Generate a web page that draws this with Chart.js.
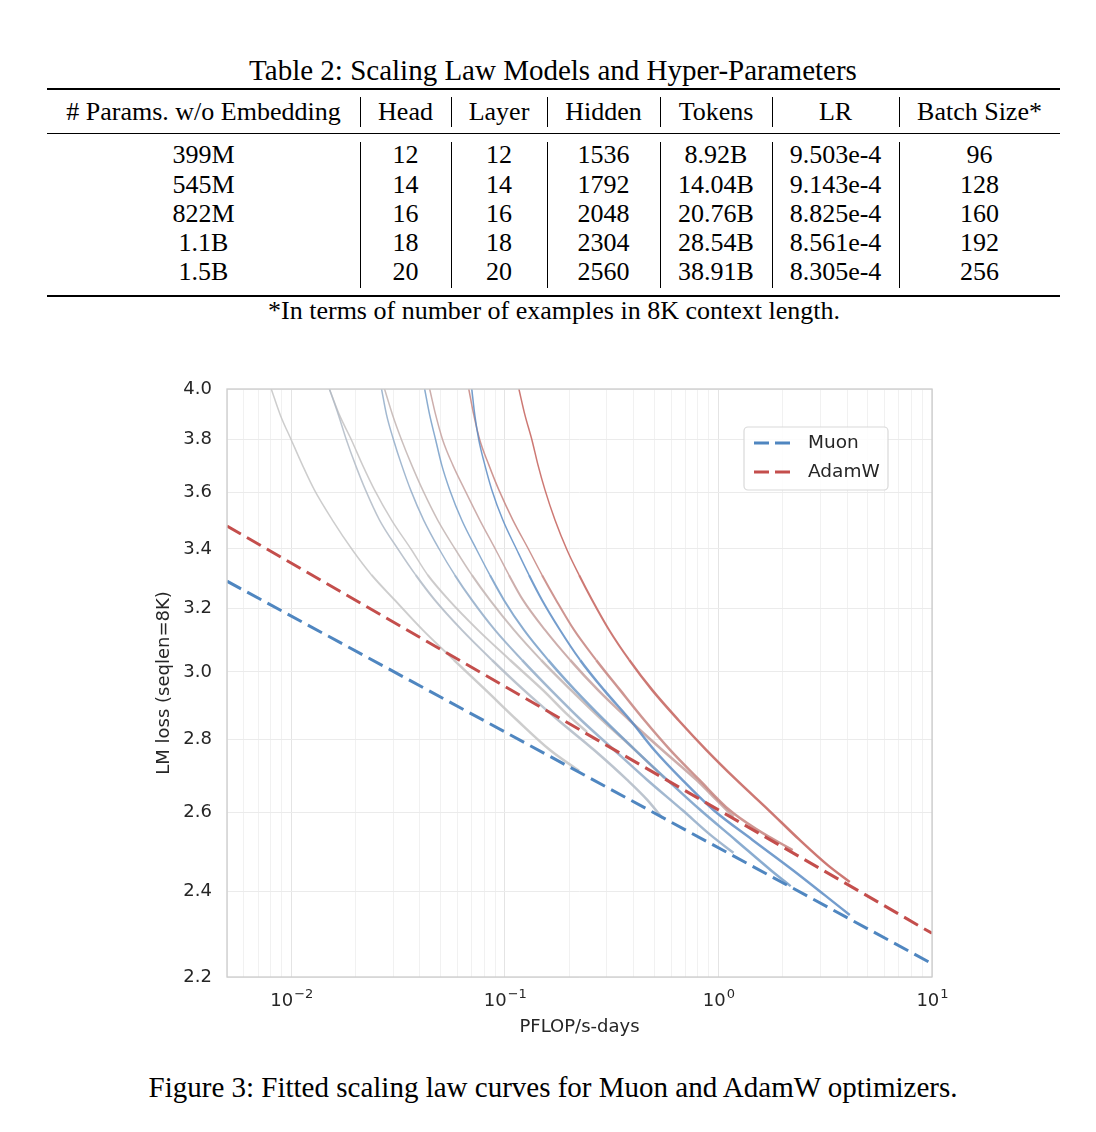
<!DOCTYPE html>
<html>
<head>
<meta charset="utf-8">
<script src="https://cdn.jsdelivr.net/npm/chart.js@4.4.1/dist/chart.umd.min.js"></script>
<style>
  body { margin: 0; background: #fff; width: 1096px; height: 1132px; position: relative; overflow: hidden;
         font-family: "Liberation Serif", "Times New Roman", serif; color: #000; }
  .t { position: absolute; white-space: nowrap; font-size: 26px; transform: translate(-50%, -50%); line-height: 1; }
  .big { font-size: 29px; }
  .rule { position: absolute; background: #000; }
  #wrap { position: absolute; left: 0; top: 360px; width: 1096px; height: 700px; }
</style>
</head>
<body>
<div id="table"></div>
<div id="wrap"><canvas id="chart"></canvas></div>
<div class="t big" style="left:553px; top:1087px;">Figure 3: Fitted scaling law curves for Muon and AdamW optimizers.</div>
<script>
// ---- table ----
var tableTitle = 'Table 2: Scaling Law Models and Hyper-Parameters';
var tableNote = '*In terms of number of examples in 8K context length.';
var tableHeaders = ['# Params. w/o Embedding', 'Head', 'Layer', 'Hidden', 'Tokens', 'LR', 'Batch Size*'];
var tableRows = [
    ['399M', '12', '12', '1536', '8.92B', '9.503e-4', '96'],
    ['545M', '14', '14', '1792', '14.04B', '9.143e-4', '128'],
    ['822M', '16', '16', '2048', '20.76B', '8.825e-4', '160'],
    ['1.1B', '18', '18', '2304', '28.54B', '8.561e-4', '192'],
    ['1.5B', '20', '20', '2560', '38.91B', '8.305e-4', '256']
];

// ---- chart data (x: PFLOP/s-days, y: LM loss) ----
var muonFitX = [0.005, 10];
var muonFitY = [3.29, 2.23];
var adamFitX = [0.005, 10];
var adamFitY = [3.48, 2.30];

var m1X = [0.008057, 0.008879, 0.01000, 0.011263, 0.012824, 0.015578, 0.019338, 0.023748, 0.03045, 0.041216, 0.057623, 0.08143, 0.11385, 0.16266, 0.22255];
var m1Y = [4.000, 3.896, 3.798, 3.703, 3.610, 3.501, 3.396, 3.311, 3.228, 3.131, 3.037, 2.945, 2.857, 2.771, 2.713];
var a1X = [0.01508, 0.016802, 0.01913, 0.021545, 0.02453, 0.029479, 0.036594, 0.043503, 0.054594, 0.07469, 0.10556, 0.1508, 0.19761, 0.24267];
var a1Y = [4.000, 3.896, 3.798, 3.703, 3.610, 3.501, 3.396, 3.311, 3.228, 3.131, 3.037, 2.945, 2.871, 2.822];
var m2X = [0.01508, 0.016622, 0.018122, 0.019974, 0.022255, 0.025893, 0.031795, 0.038209, 0.046922, 0.062826, 0.08689, 0.1228, 0.17736, 0.26172, 0.3739, 0.46418, 0.54585];
var m2Y = [4.000, 3.896, 3.798, 3.703, 3.610, 3.501, 3.396, 3.311, 3.228, 3.131, 3.037, 2.945, 2.857, 2.771, 2.688, 2.634, 2.586];
var a2X = [0.02733, 0.029799, 0.032845, 0.036594, 0.041216, 0.048467, 0.058881, 0.0700, 0.08504, 0.11022, 0.14758, 0.20412, 0.28536, 0.40769, 0.55777];
var a2Y = [4.000, 3.896, 3.798, 3.703, 3.610, 3.501, 3.396, 3.311, 3.228, 3.131, 3.037, 2.945, 2.857, 2.771, 2.693];
var m3X = [0.026459, 0.027927, 0.030123, 0.032845, 0.036201, 0.041663, 0.04953, 0.058248, 0.0700, 0.08975, 0.12018, 0.16443, 0.22741, 0.32488, 0.46418, 0.67763, 0.91714, 1.1761];
var m3Y = [4.000, 3.896, 3.798, 3.703, 3.610, 3.501, 3.396, 3.311, 3.228, 3.131, 3.037, 2.945, 2.857, 2.771, 2.688, 2.607, 2.542, 2.496];
var a3X = [0.044455, 0.047432, 0.051163, 0.057004, 0.064895, 0.07632, 0.09073, 0.10443, 0.12148, 0.1541, 0.20193, 0.2733, 0.38207, 0.54585, 0.78835, 0.97863, 1.1761];
var a3Y = [4.000, 3.896, 3.798, 3.703, 3.610, 3.501, 3.396, 3.311, 3.228, 3.131, 3.037, 2.945, 2.857, 2.771, 2.688, 2.634, 2.589];
var m4X = [0.042115, 0.044455, 0.047432, 0.050613, 0.055186, 0.062826, 0.07388, 0.08504, 0.09893, 0.1228, 0.15919, 0.21311, 0.2916, 0.40769, 0.57618, 0.82317, 1.2018, 1.7544, 2.1779];
var m4Y = [4.000, 3.896, 3.798, 3.703, 3.610, 3.501, 3.396, 3.311, 3.228, 3.131, 3.037, 2.945, 2.857, 2.771, 2.688, 2.607, 2.529, 2.453, 2.413];
var a4X = [0.06777, 0.07153, 0.07632, 0.08412, 0.09373, 0.10904, 0.12963, 0.14918, 0.17356, 0.21082, 0.26746, 0.34667, 0.44933, 0.59517, 0.81433, 1.1263, 1.5244, 2.2255];
var a4Y = [4.000, 3.896, 3.798, 3.703, 3.610, 3.501, 3.396, 3.311, 3.228, 3.131, 3.037, 2.945, 2.857, 2.771, 2.688, 2.607, 2.555, 2.503];
var m5X = [0.0700, 0.0723, 0.0755, 0.08056, 0.08689, 0.09786, 0.11385, 0.12963, 0.14918, 0.18122, 0.22497, 0.2916, 0.38623, 0.50063, 0.67763, 0.94734, 1.4441, 2.2255, 3.1452, 4.1212];
var m5Y = [4.000, 3.896, 3.798, 3.703, 3.610, 3.501, 3.396, 3.311, 3.228, 3.131, 3.037, 2.945, 2.857, 2.771, 2.688, 2.607, 2.529, 2.453, 2.391, 2.343];
var a5X = [0.11635, 0.12413, 0.1339, 0.14288, 0.1541, 0.17169, 0.19549, 0.22255, 0.25613, 0.3078, 0.38207, 0.48992, 0.64895, 0.87836, 1.2148, 1.7169, 2.4003, 3.2487, 4.1212];
var a5Y = [4.000, 3.896, 3.798, 3.703, 3.610, 3.501, 3.396, 3.311, 3.228, 3.131, 3.037, 2.945, 2.857, 2.771, 2.688, 2.607, 2.529, 2.465, 2.423];

var xGridValues = [0.005, 0.006, 0.007, 0.008, 0.009,
    0.01, 0.02, 0.03, 0.04, 0.05, 0.06, 0.07, 0.08, 0.09,
    0.1, 0.2, 0.3, 0.4, 0.5, 0.6, 0.7, 0.8, 0.9,
    1, 2, 3, 4, 5, 6, 7, 8, 9, 10];
var xMajorTicks = [0.01, 0.1, 1, 10];
var xMajorExponents = ['\u22122', '\u22121', '0', '1'];
var yTickValues = [2.2, 2.4, 2.6, 2.8, 3.0, 3.2, 3.4, 3.6, 3.8, 4.0];

// ---- build table ----
var colEdges = [47, 360, 451, 547, 660, 772, 899, 1060];
var rowCenters = [155, 185, 214, 243, 272];
var tableEl = document.getElementById('table');

function addText(txt, x, y, cls) {
    var d = document.createElement('div');
    d.className = 't' + (cls ? ' ' + cls : '');
    d.style.left = x + 'px';
    d.style.top = y + 'px';
    d.textContent = txt;
    tableEl.appendChild(d);
}
function addRule(x, y, w, h) {
    var d = document.createElement('div');
    d.className = 'rule';
    d.style.left = x + 'px';
    d.style.top = y + 'px';
    d.style.width = w + 'px';
    d.style.height = h + 'px';
    tableEl.appendChild(d);
}

addText(tableTitle, 553, 70, 'big');
addRule(47, 88, 1013, 2);
addRule(47, 133, 1013, 1);
addRule(47, 295, 1013, 2);
addText(tableNote, 554, 311);
for (var c = 0; c < tableHeaders.length; c++) {
    var cx = (colEdges[c] + colEdges[c + 1]) / 2;
    addText(tableHeaders[c], cx, 112);
    for (var r = 0; r < tableRows.length; r++) {
        addText(tableRows[r][c], cx, rowCenters[r]);
    }
    if (c > 0) {
        addRule(colEdges[c], 97, 1, 30);
        addRule(colEdges[c], 142, 1, 146);
    }
}

// ---- chart ----
function pts(xs, ys) {
    return xs.map(function (x, i) { return { x: x, y: ys[i] }; });
}
// loss curves look heavier in their noisy tails
function tailWidth(ctx) {
    var y = ctx.p1.parsed.y;
    if (y > 3.25) return 1.5;
    if (y > 2.95) return 2.0;
    return 2.5;
}
function curve(label, xs, ys, color) {
    return { label: label, data: pts(xs, ys), borderColor: color, borderWidth: 1.6,
             pointRadius: 0, cubicInterpolationMode: 'monotone', fill: false,
             segment: { borderWidth: tailWidth } };
}
function fitLine(label, xs, ys, color) {
    return { label: label, data: pts(xs, ys), borderColor: color, borderWidth: 3,
             borderDash: [16, 7], pointRadius: 0, tension: 0, fill: false };
}

var tickFont = { family: 'DejaVu Sans', size: 18 };
var textColor = '#262626';

var frame = {
    id: 'frame',
    afterDraw: function (chart) {
        var a = chart.chartArea, ctx = chart.ctx;
        ctx.save();
        ctx.strokeStyle = '#cccccc';
        ctx.lineWidth = 1.3;
        ctx.strokeRect(a.left, a.top, a.right - a.left, a.bottom - a.top);
        ctx.restore();
    }
};

// power-of-ten labels with a raised exponent
var powerLabels = {
    id: 'powerLabels',
    afterDraw: function (chart) {
        var sx = chart.scales.x, a = chart.chartArea, ctx = chart.ctx;
        ctx.save();
        ctx.fillStyle = textColor;
        ctx.textBaseline = 'alphabetic';
        ctx.textAlign = 'left';
        xMajorTicks.forEach(function (v, i) {
            var px = sx.getPixelForValue(v);
            ctx.font = '18px "DejaVu Sans"';
            var wb = ctx.measureText('10').width;
            ctx.font = '13px "DejaVu Sans"';
            var we = ctx.measureText(xMajorExponents[i]).width;
            var x0 = px - (wb + we) / 2;
            var base = a.bottom + 29;
            ctx.font = '18px "DejaVu Sans"';
            ctx.fillText('10', x0, base);
            ctx.font = '13px "DejaVu Sans"';
            ctx.fillText(xMajorExponents[i], x0 + wb + 1, base - 8);
        });
        ctx.restore();
    }
};

var legendBox = {
    id: 'legendBox',
    afterDraw: function (chart) {
        var a = chart.chartArea, ctx = chart.ctx;
        var bx = a.right - 188, by = a.top + 38, bw = 144, bh = 63;
        ctx.save();
        ctx.beginPath();
        ctx.roundRect(bx, by, bw, bh, 4);
        ctx.fillStyle = 'rgba(255,255,255,0.85)';
        ctx.fill();
        ctx.strokeStyle = '#d9d9d9';
        ctx.lineWidth = 1.2;
        ctx.stroke();
        var items = [chart.data.datasets[0], chart.data.datasets[1]];
        ctx.font = '18.5px "DejaVu Sans"';
        ctx.textBaseline = 'middle';
        items.forEach(function (ds, i) {
            var yy = by + 16 + i * 29;
            ctx.beginPath();
            ctx.setLineDash([15, 6]);
            ctx.strokeStyle = ds.borderColor;
            ctx.lineWidth = 3;
            ctx.moveTo(bx + 10, yy);
            ctx.lineTo(bx + 46, yy);
            ctx.stroke();
            ctx.setLineDash([]);
            ctx.fillStyle = textColor;
            ctx.fillText(ds.label, bx + 64, yy);
        });
        ctx.restore();
    }
};

new Chart(document.getElementById('chart'), {
    type: 'line',
    data: {
        datasets: [
            fitLine('Muon', muonFitX, muonFitY, '#4f86c0'),
            fitLine('AdamW', adamFitX, adamFitY, '#c44e4c'),
            curve('AdamW 1.5B', a5X, a5Y, 'rgba(196,96,90,0.85)'),
            curve('Muon 1.5B', m5X, m5Y, 'rgba(92,140,196,0.85)'),
            curve('AdamW 1.1B', a4X, a4Y, 'rgba(198,130,126,0.85)'),
            curve('Muon 1.1B', m4X, m4Y, 'rgba(118,158,200,0.85)'),
            curve('AdamW 822M', a3X, a3Y, 'rgba(196,160,157,0.85)'),
            curve('Muon 822M', m3X, m3Y, 'rgba(146,172,200,0.85)'),
            curve('AdamW 545M', a2X, a2Y, 'rgba(194,180,178,0.85)'),
            curve('Muon 545M', m2X, m2Y, 'rgba(176,186,198,0.85)'),
            curve('AdamW 399M', a1X, a1Y, 'rgba(196,194,194,0.85)'),
            curve('Muon 399M', m1X, m1Y, 'rgba(196,196,196,0.85)')
        ]
    },
    options: {
        responsive: true,
        maintainAspectRatio: false,
        animation: false,
        events: [],
        layout: { padding: { left: 150, right: 164, top: 29, bottom: 18 } },
        plugins: { legend: { display: false }, tooltip: { enabled: false } },
        scales: {
            x: {
                type: 'logarithmic',
                min: 0.005,
                max: 10,
                afterBuildTicks: function (scale) {
                    scale.ticks = xGridValues.map(function (v) { return { value: v }; });
                },
                afterFit: function (scale) { scale.height = 65; },
                ticks: {
                    autoSkip: false, maxRotation: 0, padding: 10,
                    font: tickFont, color: 'rgba(0,0,0,0)',
                    callback: function (v) { return xMajorTicks.indexOf(v) >= 0 ? '10' : ''; }
                },
                grid: {
                    drawTicks: false,
                    color: function (ctx) {
                        var v = ctx.tick ? ctx.tick.value : 0;
                        return xMajorTicks.indexOf(v) >= 0 ? '#e4e4e4' : '#f1f1f1';
                    }
                },
                border: { display: false },
                title: { display: true, text: 'PFLOP/s-days', font: tickFont, color: textColor }
            },
            y: {
                type: 'logarithmic',
                min: 2.2,
                max: 4.0,
                afterBuildTicks: function (scale) {
                    scale.ticks = yTickValues.map(function (v) { return { value: v }; });
                },
                afterFit: function (scale) { scale.width = 77; },
                ticks: {
                    autoSkip: false, padding: 15, font: tickFont, color: textColor,
                    callback: function (v) { return Number(v).toFixed(1); }
                },
                grid: { drawTicks: false, color: '#ebebeb' },
                border: { display: false },
                title: { display: true, text: 'LM loss (seqlen=8K)', font: tickFont, color: textColor }
            }
        }
    },
    plugins: [frame, powerLabels, legendBox]
});
</script>
</body>
</html>
